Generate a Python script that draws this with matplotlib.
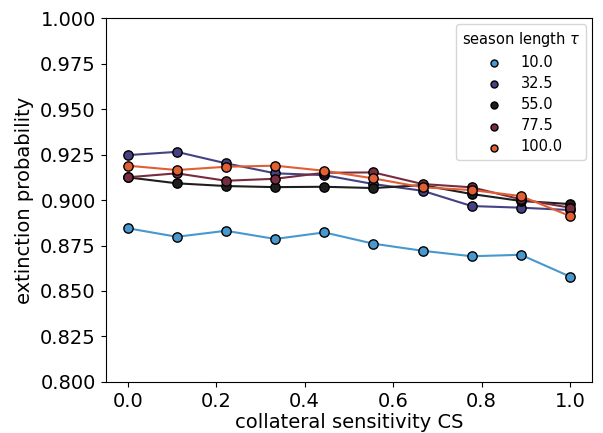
import matplotlib
matplotlib.use("Agg")
import matplotlib.pyplot as plt
import seaborn as sns
import numpy as np

cs = np.linspace(0, 1, 10)
taus = ["10.0", "32.5", "55.0", "77.5", "100.0"]
p_10 = [0.8845, 0.8798, 0.8831, 0.8786, 0.8822, 0.8760, 0.8721, 0.8691, 0.8699, 0.8579]
p_32 = [0.9247, 0.9265, 0.9202, 0.9147, 0.9137, 0.9088, 0.9051, 0.8967, 0.8958, 0.8945]
p_55 = [0.9125, 0.9092, 0.9077, 0.9071, 0.9073, 0.9066, 0.9082, 0.9033, 0.8995, 0.8978]
p_77 = [0.9125, 0.9147, 0.9106, 0.9117, 0.9150, 0.9152, 0.9088, 0.9070, 0.9004, 0.8958]
p_100 = [0.9189, 0.9165, 0.9183, 0.9189, 0.9161, 0.9119, 0.9070, 0.9055, 0.9022, 0.8912]
series = [p_10, p_32, p_55, p_77, p_100]

colors = sns.color_palette("icefire", 5)

fig, ax = plt.subplots(figsize=(6.03, 4.33), dpi=100)
for tau, vals, c in zip(taus, series, colors):
    ax.plot(cs, vals, color=c, lw=1.5, zorder=2)
    ax.scatter(cs, vals, color=c, edgecolor="black", s=45, lw=1, zorder=3, label=tau)

ax.set_ylim(0.8, 1.0)
ax.set_yticks(np.arange(0.8, 1.0001, 0.025))
ax.set_xticks(np.arange(0, 1.01, 0.2))
ax.tick_params(labelsize=14)
ax.set_xlabel("collateral sensitivity CS", fontsize=14, labelpad=2)
ax.set_ylabel("extinction probability", fontsize=14)
ax.legend(title=r"season length $\tau$", fontsize=10.5, title_fontsize=10.5,
          loc="upper right", markerscale=0.75, labelspacing=0.42, borderaxespad=0.4)

plt.subplots_adjust(left=0.175, right=0.982, top=0.958, bottom=0.118)
plt.savefig("out.png")
